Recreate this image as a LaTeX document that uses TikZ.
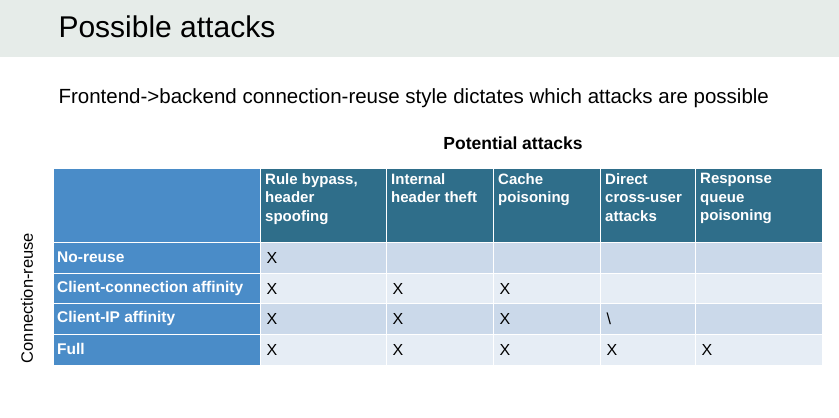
\documentclass[tikz,border=0pt]{standalone}
\usepackage{fontspec}
\setmainfont{Liberation Sans}
\usetikzlibrary{positioning}
\definecolor{titlebg}{HTML}{E6ECE9}
\definecolor{headblue}{HTML}{2F6E8A}
\definecolor{rowblue}{HTML}{4A8CC8}
\definecolor{darkcell}{HTML}{CBD9EA}
\definecolor{lightcell}{HTML}{E6EDF5}
\tikzset{
 cell/.style={draw=white, line width=1.2pt, anchor=north west, inner sep=0pt},
 hdr/.style={cell, fill=headblue},
 rowhdr/.style={cell, fill=rowblue},
 xmark/.style={font=\fontsize{16}{16}\selectfont, anchor=west}
}

\begin{document}
\begin{tikzpicture}[x=1pt,y=-1pt]
\useasboundingbox (0,0) rectangle (839,418);
% 1. Title and caption
%%%%%%%%%%
\fill[titlebg] (0,0) rectangle (839,57);
\node[anchor=west, font=\fontsize{30}{32}\selectfont] (title) at (55,27) {Possible attacks};
\node[anchor=west, font=\fontsize{20.5}{22}\selectfont] (sub) at (55,98) {Frontend->backend connection-reuse style dictates which attacks are possible};
\node[font=\bfseries\fontsize{17.5}{19}\selectfont] (pot) at (513,143) {Potential attacks};
\node[rotate=90, font=\fontsize{16.5}{18}\selectfont] (reuse) at (27,298) {Connection-reuse};
% 2. Table
%%%%%%%%%%
\node[cell, fill=rowblue, minimum width=207pt, minimum height=74pt] (corner) at (53,168) {};
\foreach \x/\w [count=\i] in {260/126, 386/107, 493/107, 600/95, 695/127}
  \node[hdr, minimum width=\w pt, minimum height=74pt] (h\i) at (\x,168) {};
\foreach \x/\t [count=\i] in {265/{Rule bypass,\\header\\spoofing},
    391/{Internal\\header theft}, 498/{Cache\\poisoning},
    605/{Direct\\cross-user\\attacks}, 700/{Response\\queue\\poisoning}}
  \node[anchor=north west, text=white, align=left, inner sep=0pt,
    font=\bfseries\fontsize{15}{18.5}\selectfont] (t\i) at (\x,173) {\t};
\foreach \y/\f/\t [count=\r] in {242/darkcell/No-reuse, 273/lightcell/Client-connection affinity,
    303/darkcell/Client-IP affinity, 334/lightcell/Full} {
  \node[rowhdr, minimum width=207pt, minimum height=31pt] (r\r) at (53,\y) {};
  \node[anchor=west, text=white, inner sep=0pt, font=\bfseries\fontsize{15.5}{17}\selectfont] (rt\r) at (57,\y+15) {\t};
  \foreach \x/\w [count=\c] in {260/126, 386/107, 493/107, 600/95, 695/127}
    \node[cell, fill=\f, minimum width=\w pt, minimum height=31pt] (c\r\c) at (\x,\y) {};
}
% 3. Marks
%%%%%%%%%%
\foreach \r/\c/\m in {1/1/X, 2/1/X, 2/2/X, 2/3/X, 3/1/X, 3/2/X, 3/3/X, 3/4/\textbackslash,
    4/1/X, 4/2/X, 4/3/X, 4/4/X, 4/5/X}
  \node[xmark] (m\r\c) at ([xshift=3pt]c\r\c.west) {\m};
\end{tikzpicture}
\end{document}
